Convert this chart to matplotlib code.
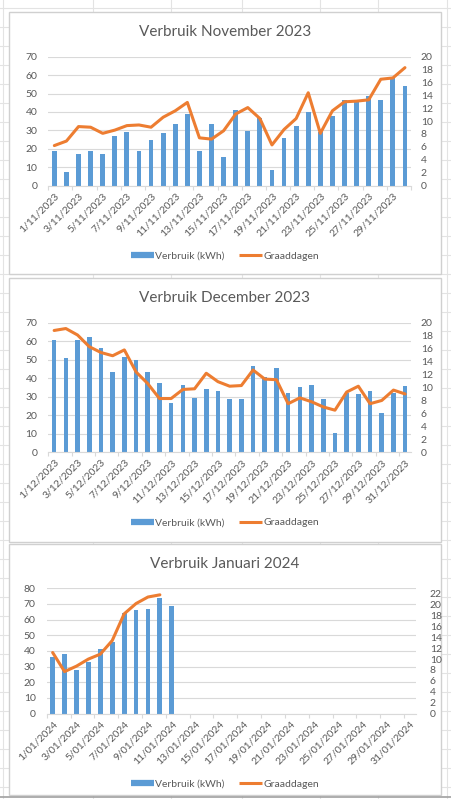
import matplotlib
matplotlib.use("Agg")
import matplotlib.pyplot as plt
from matplotlib.lines import Line2D
from matplotlib.patches import Rectangle

plt.rcParams['font.family'] = ['Lato', 'DejaVu Sans']

# ---------------- data ----------------
nov_days = [f"{d}/11/2023" for d in range(1, 31)]
nov_kwh = [18.5, 7.5, 17, 18.5, 17, 27, 29, 19, 25, 28.5,
           33.5, 38.8, 18.5, 33.6, 15.5, 40.8, 29.5, 36.5, 8.2, 25.8,
           32.4, 39.8, 29.2, 37.8, 46.2, 45.5, 48.5, 46.7, 58.7, 54]
nov_gd = [6.2, 6.9, 9.15, 9.05, 8.1, 8.6, 9.3, 9.4, 9.05, 10.6,
          11.6, 12.9, 7.4, 7.2, 8.5, 11.1, 12.1, 10.4, 6.3, 8.7,
          10.4, 14.4, 8.1, 11.6, 13.0, 13.1, 13.3, 16.5, 16.7, 18.3]

dec_days = [f"{d}/12/2023" for d in range(1, 32)]
dec_kwh = [60.5, 50.9, 60.6, 62.1, 56.2, 43.3, 51.3, 49.8, 43.3, 37.2,
           26.8, 36.3, 29.5, 34, 33.1, 28.9, 28.7, 46.4, 40.8, 45.3,
           32.2, 35.4, 36.5, 28.7, 10.2, 31.8, 31.3, 33.1, 21.4, 31.8, 35.8]
dec_gd = [18.8, 19.1, 18.1, 16.3, 15.4, 14.9, 15.8, 12.4, 10.6, 8.3,
          8.3, 9.7, 9.8, 12.2, 10.9, 10.2, 10.3, 12.7, 11.3, 11.2,
          7.5, 8.4, 7.8, 7.0, 6.5, 9.3, 10.2, 7.5, 8.0, 9.6, 9.0]

jan_days = [f"{d}/01/2024" for d in range(1, 32)]
jan_kwh = [36.2, 37.9, 28.1, 32.6, 41.5, 46, 64.4, 65.9, 66.8, 73.8, 68.9]
jan_gd = [11.2, 7.7, 8.7, 10.0, 10.9, 13.4, 18.3, 20.2, 21.4, 21.8]

BLUE = "#5B9BD5"
ORANGE = "#ED7D31"
TXT = "#595959"
GRID = "#D9D9D9"

W, H = 452, 799
fig = plt.figure(figsize=(W / 100, H / 100), dpi=100)

# ---------------- spreadsheet background ----------------
bg = fig.add_axes([0, 0, 1, 1])
bg.set_xlim(0, W)
bg.set_ylim(H, 0)
bg.axis("off")
for y in range(8, H, 19):
    bg.plot([0, W], [y, y], color="#E3E3E3", lw=0.8)
for x in [3, 93, 171, 242, 320, 378, 447]:
    bg.plot([x, x], [0, H], color="#E3E3E3", lw=0.8)
boxes = [(9, 12, 441, 274), (9, 278, 441, 542), (9, 544, 441, 795)]
for x0, y0, x1, y1 in boxes:
    bg.add_patch(Rectangle((x0, y0), x1 - x0, y1 - y0, facecolor="white",
                           edgecolor="#D0D0D0", lw=1.0, zorder=3))
bg.plot([0, W], [796.5, 796.5], color="#A0A0A0", lw=1.2, zorder=4)


def make_chart(title, title_y, labels, kwh, gd, left, right, top, bottom,
               ymax_l, yticks_l, ymax_r, yticks_r, legend_y, rlab_x):
    ax = fig.add_axes([left / W, 1 - bottom / H, (right - left) / W, (bottom - top) / H])
    n = len(labels)
    xs = list(range(1, n + 1))
    ax.bar(xs[:len(kwh)], kwh, width=0.4, color=BLUE, zorder=2)
    ax.set_xlim(0.5, n + 0.5)
    ax.set_ylim(0, ymax_l)
    ax.set_yticks(yticks_l)
    ax.yaxis.grid(True, color=GRID, lw=0.8)
    ax.set_axisbelow(True)
    for s in ["top", "right", "left"]:
        ax.spines[s].set_visible(False)
    ax.spines["bottom"].set_color(GRID)
    ax.spines["bottom"].set_linewidth(0.8)
    ax.tick_params(axis="y", length=0, labelsize=7.5, labelcolor=TXT, pad=8)
    ax.set_xticks(xs[::2])
    ax.set_xticklabels(labels[::2], rotation=45, ha="right", rotation_mode="anchor",
                       fontsize=7.5, color=TXT)
    ax.tick_params(axis="x", length=0, pad=4)
    # small tick marks on category boundaries
    ax.set_xticks([x + 0.5 for x in range(0, n + 1, 2)], minor=True)
    ax.tick_params(axis="x", which="minor", length=3, color=GRID, width=0.8)

    ax2 = ax.twinx()
    ax2.plot(xs[:len(gd)], gd, color=ORANGE, lw=2.2, zorder=3,
             solid_joinstyle="round", solid_capstyle="round")
    ax2.set_ylim(0, ymax_r)
    ax2.set_yticks(yticks_r)
    for s in ["top", "right", "left", "bottom"]:
        ax2.spines[s].set_visible(False)
    ax2.tick_params(axis="y", length=0, labelsize=7.5, labelcolor=TXT,
                    pad=rlab_x - right)

    fig.text(0.5 * (9 + 441) / W, 1 - title_y / H, title, ha="center", va="center",
             fontsize=11, color=TXT)

    handles = [Line2D([], [], color=BLUE, lw=4.5, solid_capstyle="butt"),
               Line2D([], [], color=ORANGE, lw=2.2, solid_capstyle="butt")]
    fig.legend(handles, ["Verbruik (kWh)", "Graaddagen"], loc="center",
               bbox_to_anchor=(0.5 * (9 + 441) / W, 1 - legend_y / H), ncol=2,
               frameon=False, fontsize=7.5, labelcolor=TXT, handlelength=2.2,
               handletextpad=0.15, columnspacing=1.4)


make_chart("Verbruik November 2023", 32, nov_days, nov_kwh, nov_gd,
           48.3, 411, 56.7, 185.5, 70, list(range(0, 71, 10)), 20,
           list(range(0, 21, 2)), 256, 418)
make_chart("Verbruik December 2023", 298, dec_days, dec_kwh, dec_gd,
           48.3, 411, 322.7, 452.3, 70, list(range(0, 71, 10)), 20,
           list(range(0, 21, 2)), 522.7, 418)
make_chart("Verbruik Januari 2024", 564, jan_days, jan_kwh, jan_gd,
           46.7, 416, 588.3, 713.5, 80, list(range(0, 81, 10)), 23,
           list(range(0, 23, 2)), 784.3, 426)

fig.savefig("out.png", dpi=100)
